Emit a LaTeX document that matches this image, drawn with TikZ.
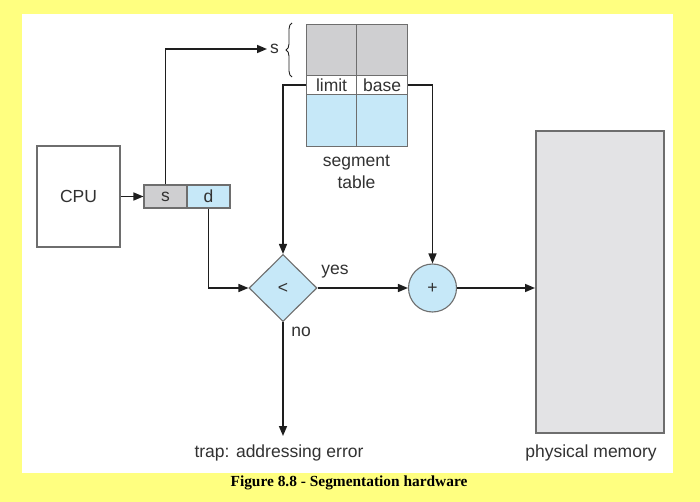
\documentclass[tikz,border=0pt]{standalone}
\usepackage{fontspec}
\setmainfont{Liberation Sans}
\newfontfamily\capfont{Liberation Serif}
\usetikzlibrary{arrows.meta,shapes.geometric,decorations.pathreplacing}
\definecolor{bgyellow}{RGB}{255,255,128}
\definecolor{cellblue}{RGB}{198,232,248}
\definecolor{cellgray}{RGB}{207,207,209}
\definecolor{memgray}{RGB}{227,227,229}
\definecolor{edgegray}{RGB}{110,110,110}
\definecolor{linecol}{RGB}{30,30,30}
\definecolor{txt}{RGB}{50,50,50}
\tikzset{
  lbl/.style={font=\fontsize{17.5}{20}\selectfont, text=txt, inner sep=0pt},
  cell/.style={draw=edgegray, line width=1.1pt, inner sep=0pt, anchor=north west},
  conn/.style={draw=linecol, line width=1.5pt, -{Triangle[length=10pt,width=8pt]}},
  plain/.style={draw=linecol, line width=1.5pt},
}
\begin{document}
\begin{tikzpicture}[x=1pt,y=-1pt]
\fill[bgyellow] (0,0) rectangle (700,502);
\fill[white] (22,14) rectangle (673,473);
\useasboundingbox (0,0) rectangle (700,502);

% CPU and address register
\node[draw=edgegray, line width=1.1pt, minimum width=83pt, minimum height=101pt, inner sep=0pt, lbl] (cpu) at (78.5,196.5) {CPU};
\node[cell, fill=cellgray, minimum width=43pt, minimum height=23pt, lbl, anchor=center] (sreg) at (165.5,196.5) {s};
\node[cell, fill=cellblue, minimum width=43pt, minimum height=23pt, lbl, anchor=center] (dreg) at (208.5,196.5) {d};

% segment table
\node[cell, fill=cellgray, minimum width=50pt, minimum height=51pt] (g1) at (306,24) {};
\node[cell, fill=cellgray, minimum width=51pt, minimum height=51pt] (g2) at (356,24) {};
\node[cell, fill=white, minimum width=50pt, minimum height=19pt, lbl] (limit) at (306,75) {limit};
\node[cell, fill=white, minimum width=51pt, minimum height=19pt, lbl] (base) at (356,75) {base};
\node[cell, fill=cellblue, minimum width=50pt, minimum height=52pt] (b1) at (306,94) {};
\node[cell, fill=cellblue, minimum width=51pt, minimum height=52pt] (b2) at (356,94) {};
\node[lbl, align=center, font=\fontsize{17.5}{22}\selectfont] (segtab) at (356.5,172) {segment\\table};

% s label and brace
\node[lbl, anchor=west] (slab) at (270,49) {s};
\draw[draw=linecol, line width=0.9pt, decorate, decoration={brace, amplitude=6pt}] (292,77) -- (292,23);

% comparator and adder
\node[diamond, draw=edgegray, line width=1.1pt, fill=cellblue, minimum width=68pt, minimum height=67pt, inner sep=0pt, lbl] (cmp) at (283,288) {<};
\node[circle, draw=edgegray, line width=1.1pt, fill=cellblue, minimum size=48pt, inner sep=0pt, lbl] (add) at (432.5,288) {+};

% physical memory
\node[draw=edgegray, line width=1.6pt, fill=memgray, minimum width=128pt, minimum height=302pt, inner sep=0pt, anchor=north west] (mem) at (535,130) {};

% labels
\node[lbl] (yes) at (335,272) {yes};
\node[lbl] (no) at (301,332) {no};
\node[lbl] (trap) at (279,453) {trap: addressing error};
\node[lbl] (physmem) at (591,453) {physical memory};
\coordinate (trapin) at (283,436);
\node[font=\capfont\bfseries\fontsize{15.4}{18}\selectfont, inner sep=0pt] (caption) at (349,483) {Figure 8.8 - Segmentation hardware};

% connectors
\draw[conn] (cpu.east) -- (sreg.west);
\draw[conn] (sreg.north) |- ([xshift=-3pt]slab.west);
\draw[conn] (limit.west) -| (cmp.north);
\draw[conn] (base.east) -| (add.north);
\draw[conn] (dreg.south) |- (cmp.west);
\draw[conn] (cmp.east) -- (add.west);
\draw[conn] (add.east) -- (add.east -| mem.west);
\draw[conn] (cmp.south) -- (trapin);
\end{tikzpicture}
\end{document}
